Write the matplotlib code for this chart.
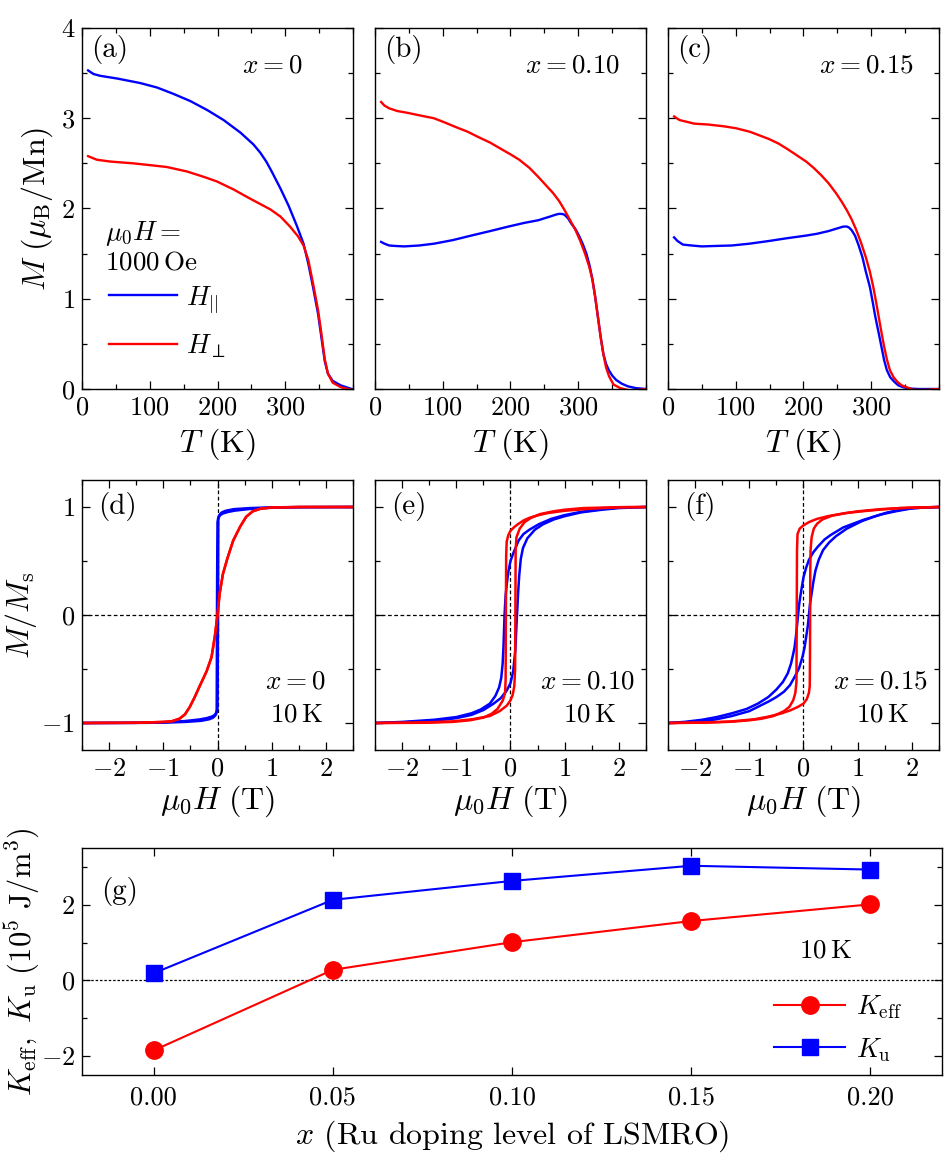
import matplotlib
matplotlib.use("Agg")
import matplotlib.pyplot as plt
from matplotlib.ticker import MultipleLocator

plt.rcParams['font.family'] = 'serif'
plt.rcParams['font.serif'] = ['cmr10']
plt.rcParams['mathtext.fontset'] = 'cm'
plt.rcParams['axes.formatter.use_mathtext'] = True

RED = '#ff0000'
BLUE = '#0000ff'

# ---- M(T) curves, panels (a)-(c) ----
Ta_par = [9, 17, 27, 52, 86, 111, 135, 160, 185, 209, 234, 253, 263, 272, 280, 293, 305, 317, 327,
          334, 341, 348.5, 353.4, 358.3, 363, 370, 382, 398]
Ma_par = [3.53, 3.49, 3.47, 3.44, 3.39, 3.34, 3.27, 3.19, 3.09, 2.98, 2.84, 2.71, 2.62, 2.52, 2.41,
          2.22, 2.03, 1.81, 1.61, 1.39, 1.13, 0.83, 0.57, 0.31, 0.17, 0.09, 0.04, 0.0]
Ta_perp = [9, 22, 42, 76, 101, 125, 155, 180, 199, 224, 243, 263, 278, 293, 307, 319, 327, 334,
           341, 348.5, 353.4, 358.3, 363, 370, 382, 398]
Ma_perp = [2.58, 2.54, 2.52, 2.50, 2.48, 2.46, 2.41, 2.35, 2.30, 2.21, 2.13, 2.05, 1.99, 1.91,
           1.80, 1.69, 1.59, 1.43, 1.17, 0.87, 0.61, 0.33, 0.17, 0.07, 0.02, -0.01]

Tb_par = [9, 14, 21, 30, 43, 65, 87, 115, 142, 170, 197, 220, 241, 258, 266, 271, 276, 280, 285,
          290, 296, 301, 307, 312, 317, 321, 325, 329, 333, 337, 341, 345, 350, 356, 364, 373, 385, 400]
Mb_par = [1.63, 1.61, 1.59, 1.585, 1.58, 1.59, 1.61, 1.65, 1.70, 1.75, 1.80, 1.84, 1.87, 1.91, 1.93,
          1.94, 1.94, 1.93, 1.89, 1.83, 1.77, 1.70, 1.60, 1.50, 1.36, 1.21, 1.02, 0.80, 0.58, 0.39,
          0.28, 0.21, 0.15, 0.10, 0.06, 0.03, 0.01, 0.0]
Tb_perp = [9, 14, 21, 33, 48, 67, 87, 104, 120, 137, 153, 170, 186, 200, 213, 228, 241, 252, 263,
           272, 280, 288, 296, 303, 310, 316, 321, 325, 329, 333, 337, 341, 345.5, 352, 362, 378, 400]
Mb_perp = [3.18, 3.14, 3.11, 3.08, 3.06, 3.03, 3.00, 2.95, 2.90, 2.85, 2.79, 2.73, 2.66, 2.60, 2.54,
           2.45, 2.35, 2.26, 2.17, 2.08, 1.98, 1.87, 1.76, 1.64, 1.50, 1.36, 1.21, 1.02, 0.80, 0.58,
           0.39, 0.24, 0.14, 0.05, 0.01, -0.02, 0.0]

Tc_par = [9, 14, 22, 35, 50, 70, 94, 120, 149, 175, 204, 220, 237, 250, 259, 264, 267, 271, 276,
          281, 287, 292, 298, 302, 306, 311, 315, 319, 323, 328, 334, 340, 347, 357, 369, 400]
Mc_par = [1.68, 1.64, 1.60, 1.59, 1.58, 1.585, 1.59, 1.61, 1.64, 1.67, 1.70, 1.72, 1.75, 1.78, 1.80,
          1.80, 1.79, 1.76, 1.70, 1.60, 1.46, 1.30, 1.13, 0.97, 0.80, 0.62, 0.47, 0.32, 0.21, 0.13,
          0.08, 0.04, 0.02, 0.005, 0.0, 0.0]
Tc_perp = [9, 17, 28, 39, 60, 83, 100, 121, 135, 149, 163, 176, 190, 204, 215, 226, 237, 248, 256,
           264, 271, 278, 285, 292, 298, 303, 307, 311, 315, 319, 323, 327.5, 333, 338.5, 345, 352,
           363, 380, 400]
Mc_perp = [3.02, 2.98, 2.96, 2.94, 2.93, 2.91, 2.89, 2.85, 2.81, 2.77, 2.72, 2.66, 2.59, 2.52, 2.45,
           2.37, 2.28, 2.17, 2.08, 1.98, 1.88, 1.76, 1.62, 1.46, 1.30, 1.13, 0.97, 0.80, 0.63, 0.47,
           0.33, 0.21, 0.13, 0.08, 0.04, 0.02, -0.01, -0.01, 0.0]

# ---- M/Ms loops, panels (d)-(f); _dn sweeps +H -> -H, _up sweeps -H -> +H ----
Hd_blue_dn = [2.5, 1.5, 1.0, 0.6, 0.3, 0.15, 0.08, 0.04, 0.02, 0.01, 0.0, -0.005, -0.01, -0.012,
              -0.015, -0.025, -0.05, -0.1, -0.2, -0.33, -0.6, -0.94, -1.5, -2.5]
Md_blue_dn = [1.0, 0.999, 0.997, 0.99, 0.98, 0.965, 0.95, 0.93, 0.91, 0.89, 0.86, 0.5, 0.0, -0.5,
              -0.88, -0.905, -0.925, -0.94, -0.955, -0.967, -0.982, -0.992, -0.998, -1.0]
Hd_blue_up = [-2.5, -1.5, -1.0, -0.6, -0.3, -0.15, -0.08, -0.04, -0.02, -0.01, 0.0, 0.005, 0.01,
              0.012, 0.015, 0.025, 0.05, 0.1, 0.2, 0.33, 0.6, 0.94, 1.5, 2.5]
Md_blue_up = [-1.0, -0.999, -0.997, -0.99, -0.98, -0.965, -0.95, -0.93, -0.91, -0.89, -0.86, -0.5,
              0.0, 0.5, 0.88, 0.905, 0.925, 0.94, 0.955, 0.967, 0.982, 0.992, 0.998, 1.0]
Hd_red = [2.5, 1.5, 1.0, 0.8, 0.65, 0.53, 0.42, 0.29, 0.18, 0.10, 0.04, 0.0, -0.05, -0.11, -0.2,
          -0.33, -0.42, -0.51, -0.6, -0.7, -0.85, -1.0, -1.5, -2.5]
Md_red = [1.0, 1.0, 0.995, 0.985, 0.96, 0.91, 0.82, 0.69, 0.52, 0.38, 0.20, 0.0, -0.20, -0.39,
          -0.52, -0.66, -0.76, -0.85, -0.92, -0.96, -0.985, -0.99, -0.998, -1.0]

He_blue_dn = [2.5, 2.0, 1.69, 1.3, 1.0, 0.75, 0.52, 0.35, 0.24, 0.15, 0.10, 0.05, 0.0, -0.04, -0.07,
              -0.09, -0.11, -0.12, -0.13, -0.145, -0.17, -0.21, -0.28, -0.38, -0.55, -0.72, -1.0,
              -1.41, -2.0, -2.5]
Me_blue_dn = [1.0, 0.995, 0.98, 0.955, 0.925, 0.89, 0.84, 0.79, 0.75, 0.69, 0.63, 0.57, 0.50, 0.40,
              0.28, 0.18, 0.0, -0.15, -0.30, -0.45, -0.58, -0.67, -0.75, -0.82, -0.875, -0.91,
              -0.945, -0.97, -0.99, -1.0]
He_blue_up = [-2.5, -2.0, -1.41, -1.0, -0.72, -0.5, -0.31, -0.18, -0.07, 0.0, 0.05, 0.09, 0.11, 0.12,
              0.14, 0.16, 0.19, 0.23, 0.31, 0.45, 0.6, 0.8, 1.0, 1.3, 1.69, 2.0, 2.5]
Me_blue_up = [-1.0, -0.995, -0.98, -0.955, -0.925, -0.88, -0.82, -0.77, -0.70, -0.63, -0.52, -0.32,
              -0.1, 0.0, 0.2, 0.36, 0.52, 0.62, 0.71, 0.79, 0.84, 0.885, 0.915, 0.95, 0.975, 0.99, 1.0]
He_red_dn = [2.5, 2.03, 1.5, 1.0, 0.7, 0.52, 0.35, 0.24, 0.15, 0.07, 0.0, -0.04, -0.07, -0.08,
             -0.085, -0.09, -0.1, -0.14, -0.24, -0.35, -0.5, -0.75, -1.07, -1.6, -2.5]
Me_red_dn = [1.0, 0.998, 0.985, 0.965, 0.945, 0.925, 0.90, 0.875, 0.845, 0.815, 0.78, 0.74, 0.68,
             0.55, 0.0, -0.6, -0.72, -0.79, -0.87, -0.915, -0.95, -0.975, -0.99, -0.998, -1.0]
He_red_up = [-2.5, -1.6, -1.07, -0.7, -0.38, -0.2, -0.07, 0.0, 0.04, 0.07, 0.085, 0.09, 0.095, 0.11,
             0.17, 0.26, 0.38, 0.55, 0.79, 1.0, 1.34, 2.0, 2.5]
Me_red_up = [-1.0, -0.995, -0.985, -0.965, -0.935, -0.89, -0.84, -0.79, -0.74, -0.66, -0.5, 0.0,
             0.6, 0.72, 0.80, 0.86, 0.90, 0.935, 0.96, 0.975, 0.99, 0.998, 1.0]

Hf_blue_dn = [2.5, 2.2, 1.97, 1.7, 1.42, 1.1, 0.73, 0.5, 0.39, 0.26, 0.18, 0.1, 0.05, 0.0, -0.05,
              -0.08, -0.10, -0.12, -0.14, -0.165, -0.19, -0.23, -0.29, -0.38, -0.5, -0.65, -0.84,
              -1.05, -1.32, -1.6, -1.87, -2.2, -2.5]
Mf_blue_dn = [1.0, 0.995, 0.985, 0.96, 0.93, 0.88, 0.81, 0.74, 0.70, 0.63, 0.58, 0.51, 0.44, 0.35,
              0.2, 0.1, 0.0, -0.1, -0.2, -0.3, -0.36, -0.45, -0.54, -0.62, -0.69, -0.76, -0.82,
              -0.87, -0.91, -0.945, -0.97, -0.99, -1.0]
Hf_blue_up = [-2.5, -2.2, -1.87, -1.6, -1.32, -1.0, -0.64, -0.5, -0.36, -0.25, -0.16, -0.08, -0.02,
              0.02, 0.05, 0.08, 0.10, 0.12, 0.15, 0.18, 0.22, 0.28, 0.36, 0.47, 0.6, 0.8, 1.08, 1.3,
              1.55, 1.8, 2.03, 2.5]
Mf_blue_up = [-1.0, -0.995, -0.985, -0.965, -0.935, -0.89, -0.80, -0.76, -0.71, -0.65, -0.57, -0.49,
              -0.39, -0.3, -0.2, -0.1, 0.0, 0.1, 0.2, 0.3, 0.41, 0.51, 0.6, 0.67, 0.73, 0.8, 0.87,
              0.91, 0.95, 0.975, 0.99, 1.0]
Hf_red_dn = [2.5, 2.0, 1.42, 1.0, 0.73, 0.45, 0.25, 0.1, 0.0, -0.07, -0.11, -0.12, -0.125, -0.13,
             -0.15, -0.19, -0.26, -0.36, -0.55, -0.77, -1.0, -1.32, -1.8, -2.5]
Mf_red_dn = [1.0, 0.995, 0.98, 0.96, 0.94, 0.915, 0.89, 0.86, 0.83, 0.80, 0.75, 0.6, 0.0, -0.62,
             -0.72, -0.79, -0.85, -0.89, -0.935, -0.96, -0.975, -0.988, -0.997, -1.0]
Hf_red_up = [-2.5, -1.8, -1.32, -0.9, -0.64, -0.4, -0.23, -0.1, 0.0, 0.06, 0.1, 0.115, 0.12, 0.125,
             0.13, 0.15, 0.19, 0.25, 0.35, 0.53, 0.8, 1.08, 1.4, 1.76, 2.5]
Mf_red_up = [-1.0, -0.995, -0.985, -0.965, -0.94, -0.91, -0.88, -0.85, -0.82, -0.78, -0.72, -0.66,
             -0.4, 0.4, 0.6, 0.72, 0.80, 0.845, 0.885, 0.92, 0.945, 0.96, 0.975, 0.99, 1.0]

# ---- anisotropy constants, panel (g) ----
x_doping = [0.00, 0.05, 0.10, 0.15, 0.20]
x_ticklabels = ['0.00', '0.05', '0.10', '0.15', '0.20']
K_eff = [-1.85, 0.28, 1.01, 1.57, 2.01]
K_u = [0.19, 2.13, 2.63, 3.03, 2.93]

W, H = 945, 1158
fig = plt.figure(figsize=(W / 100, H / 100), dpi=100)


def ax_at(x0, y0, x1, y1):
    return fig.add_axes([x0 / W, 1 - y1 / H, (x1 - x0) / W, (y1 - y0) / H])


def style(ax):
    ax.tick_params(which='both', direction='in', top=True, right=True, labelsize=19, width=0.9)
    ax.tick_params(which='major', length=5.5, pad=5)
    ax.tick_params(which='minor', length=3.5)
    for s in ax.spines.values():
        s.set_linewidth(1.0)


lefts = [82, 375, 668]
width = 271
LAB = 23
ANN = 19.5

# top row
top_data = [(Ta_par, Ma_par, Ta_perp, Ma_perp, '(a)', r'$x=0$', 0.70),
            (Tb_par, Mb_par, Tb_perp, Mb_perp, '(b)', r'$x=0.10$', 0.727),
            (Tc_par, Mc_par, Tc_perp, Mc_perp, '(c)', r'$x=0.15$', 0.734)]
for i, (tp, mp, tq, mq, lab, xt, xpos) in enumerate(top_data):
    ax = ax_at(lefts[i], 28, lefts[i] + width, 389)
    ax.plot(tp, mp, color=BLUE, lw=1.7, label=r'$H_{||}$')
    ax.plot(tq, mq, color=RED, lw=1.7, label=r'$H_{\perp}$')
    ax.set_xlim(0, 400)
    ax.set_ylim(0, 4)
    ax.set_xticks([0, 100, 200, 300])
    ax.xaxis.set_minor_locator(MultipleLocator(50))
    ax.yaxis.set_major_locator(MultipleLocator(1))
    ax.yaxis.set_minor_locator(MultipleLocator(0.5))
    style(ax)
    ax.set_xlabel(r'$T\ (\mathrm{K})$', fontsize=LAB, labelpad=5)
    ax.text(0.035, 0.94, lab, transform=ax.transAxes, fontsize=21, va='center', ha='left')
    ax.text(xpos, 0.897, xt, transform=ax.transAxes, fontsize=ANN, va='center', ha='center')
    if i == 0:
        ax.set_ylabel(r'$M\ (\mu_{\mathrm{B}}/\mathrm{Mn})$', fontsize=LAB, labelpad=4)
        ax.text(0.085, 0.432, r'$\mu_0 H =$', transform=ax.transAxes, fontsize=ANN, va='center')
        ax.text(0.085, 0.35, r'$1000\,\mathrm{Oe}$', transform=ax.transAxes, fontsize=ANN, va='center')
        ax.legend(loc='center left', bbox_to_anchor=(0.1, 0.185), frameon=False, fontsize=ANN,
                  handlelength=2.5, handletextpad=0.35, labelspacing=0.65, borderaxespad=0, borderpad=0)
    else:
        ax.tick_params(labelleft=False)

# middle row
mid_data = [(Hd_blue_dn, Md_blue_dn, Hd_blue_up, Md_blue_up, Hd_red, Md_red, Hd_red, Md_red, '(d)', r'$x=0$'),
            (He_blue_dn, Me_blue_dn, He_blue_up, Me_blue_up, He_red_dn, Me_red_dn, He_red_up, Me_red_up, '(e)', r'$x=0.10$'),
            (Hf_blue_dn, Mf_blue_dn, Hf_blue_up, Mf_blue_up, Hf_red_dn, Mf_red_dn, Hf_red_up, Mf_red_up, '(f)', r'$x=0.15$')]
for i, (hb1, mb1, hb2, mb2, hr1, mr1, hr2, mr2, lab, xt) in enumerate(mid_data):
    ax = ax_at(lefts[i], 480, lefts[i] + width, 750)
    ax.axhline(0, color='black', lw=0.9, ls=(0, (3, 2)), zorder=1)
    ax.axvline(0, color='black', lw=0.9, ls=(0, (3, 2)), zorder=1)
    ax.plot(hb1, mb1, color=BLUE, lw=1.8)
    ax.plot(hb2, mb2, color=BLUE, lw=1.8)
    ax.plot(hr1, mr1, color=RED, lw=1.8)
    ax.plot(hr2, mr2, color=RED, lw=1.8)
    ax.set_xlim(-2.5, 2.5)
    ax.set_ylim(-1.25, 1.25)
    ax.xaxis.set_major_locator(MultipleLocator(1))
    ax.xaxis.set_minor_locator(MultipleLocator(0.5))
    ax.yaxis.set_major_locator(MultipleLocator(1))
    ax.yaxis.set_minor_locator(MultipleLocator(0.5))
    style(ax)
    ax.set_xlabel(r'$\mu_0H\ (\mathrm{T})$', fontsize=LAB, labelpad=2)
    ax.text(0.06, 0.9, lab, transform=ax.transAxes, fontsize=21, va='center', ha='left')
    ax.text(0.785, 0.252, xt, transform=ax.transAxes, fontsize=ANN, va='center', ha='center')
    ax.text(0.79, 0.13, r'$10\,\mathrm{K}$', transform=ax.transAxes, fontsize=ANN, va='center', ha='center')
    if i == 0:
        ax.set_ylabel(r'$M/M_{\mathrm{s}}$', fontsize=LAB, labelpad=2)
    else:
        ax.tick_params(labelleft=False)

# bottom panel
ax = ax_at(82, 848, 942, 1075)
ax.axhline(0, color='black', lw=0.9, ls=(0, (2, 1.5)), zorder=1)
ax.plot(x_doping, K_eff, color=RED, lw=1.5, marker='o', ms=12.5, label=r'$K_{\mathrm{eff}}$')
ax.plot(x_doping, K_u, color=BLUE, lw=1.5, marker='s', ms=11.5, label=r'$K_{\mathrm{u}}$')
ax.set_xlim(-0.02, 0.22)
ax.set_ylim(-2.5, 3.5)
ax.set_xticks(x_doping)
ax.set_xticklabels(x_ticklabels)
ax.yaxis.set_major_locator(MultipleLocator(2))
ax.yaxis.set_minor_locator(MultipleLocator(1))
style(ax)
ax.tick_params(axis='x', pad=8)
ax.set_xlabel(r'$x$ (Ru doping level of LSMRO)', fontsize=LAB, labelpad=6)
ax.set_ylabel(r'$K_{\mathrm{eff}},\ K_{\mathrm{u}}\ (10^5\ \mathrm{J/m^3})$', fontsize=22, labelpad=-1)
ax.text(0.022, 0.81, '(g)', transform=ax.transAxes, fontsize=21, va='center', ha='left')
ax.text(0.864, 0.55, r'$10\,\mathrm{K}$', transform=ax.transAxes, fontsize=ANN, va='center', ha='center')
ax.legend(loc='center left', bbox_to_anchor=(0.805, 0.205), frameon=False, fontsize=ANN,
          handlelength=2.6, handletextpad=0.4, labelspacing=0.55, borderaxespad=0, borderpad=0)

fig.savefig('out.png', dpi=100)
